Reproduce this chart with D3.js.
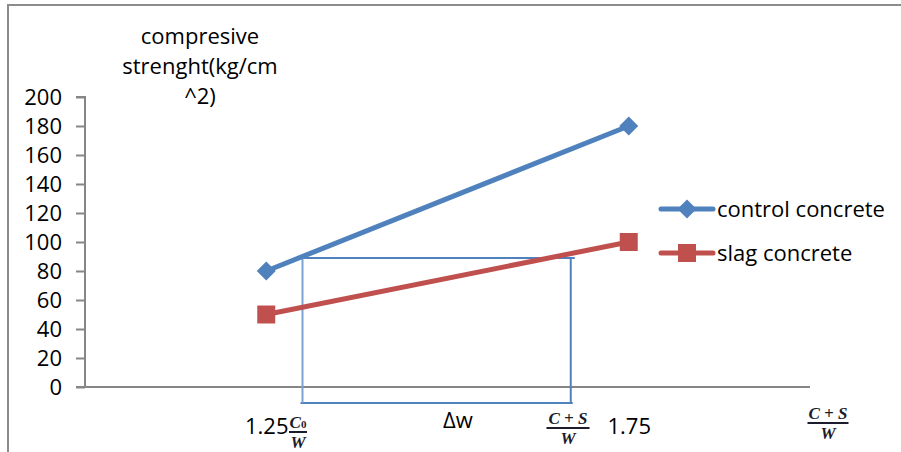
<!DOCTYPE html>
<html><head><meta charset="utf-8">
<script src="https://cdn.jsdelivr.net/npm/d3@7"></script>
<style>body{margin:0;background:#fff}svg{display:block}</style>
</head><body>
<script>
const categories = ["1.25", "1.75"];
const controlValues = [80, 180];
const slagValues = [50, 100];
const yTicks = [0, 20, 40, 60, 80, 100, 120, 140, 160, 180, 200];
const seriesNames = ["control concrete", "slag concrete"];
const titleLines = ["compresive", "strenght(kg/cm", "^2)"];
// Δw annotation box, x in category-index units, y in value units
const boxX = [0.1, 0.84];
const boxY = [-11, 89];

const W = 901, H = 452;
const font = "'Open Sans', sans-serif";
const fs = 22;
const svg = d3.select("body").append("svg").attr("width", W).attr("height", H);

// outer border
svg.append("path").attr("d", `M8,${H} L8,5 L${W},5`).attr("fill","none").attr("stroke","#8c8c8c").attr("stroke-width",2);

const x = d3.scalePoint().domain(categories).range([85, 810]).padding(0.5);
const xi = d3.scaleLinear().domain([0, 1]).range([x(categories[0]), x(categories[1])]);
const y = d3.scaleLinear().domain([0, 200]).range([387, 97]);

// y axis
const ya = svg.append("g").attr("transform","translate(85,0)")
  .call(d3.axisLeft(y).tickValues(yTicks).tickSize(9).tickPadding(14));
ya.select(".domain").attr("stroke","#868686").attr("stroke-width",2).attr("d","M-9,97H0V387H-9");
ya.selectAll(".tick line").attr("stroke","#868686").attr("stroke-width",2);
ya.selectAll(".tick text").attr("font-family",font).attr("font-size",fs).attr("fill","#000").attr("dy","0.36em");

// x axis
const xa = svg.append("g").attr("transform","translate(0,387)")
  .call(d3.axisBottom(x).tickSize(0).tickPadding(31));
xa.select(".domain").attr("stroke","#868686").attr("stroke-width",2).attr("d","M85,0H810");
xa.selectAll(".tick text").attr("font-family",font).attr("font-size",fs).attr("fill","#000").attr("dy","0.71em");

// Δw box
const bx0 = xi(boxX[0]), bx1 = xi(boxX[1]), by0 = y(boxY[0]), by1 = y(boxY[1]);
const boxG = svg.append("g").attr("stroke","#4F81BD").attr("stroke-width",2).attr("fill","none");
boxG.append("line").attr("x1",bx0).attr("x2",bx1+4).attr("y1",by1).attr("y2",by1);
boxG.append("line").attr("x1",bx0-2).attr("x2",bx1+2).attr("y1",by0).attr("y2",by0);
boxG.append("line").attr("x1",bx0).attr("x2",bx0).attr("y1",by1).attr("y2",by0).attr("stroke","#7aa3d4");
boxG.append("line").attr("x1",bx1).attr("x2",bx1).attr("y1",by1).attr("y2",by0);

// series
const series = [
  {name: seriesNames[0], values: controlValues, color: "#4F81BD", marker: "diamond"},
  {name: seriesNames[1], values: slagValues, color: "#C0504D", marker: "square"}
];
const line = d3.line().x((d,i)=>x(categories[i])).y(d=>y(d));
const sym = {diamond: d3.symbol().type(d3.symbolDiamond2).size(230), square: d3.symbol().type(d3.symbolSquare).size(324)};
series.forEach(s => {
  svg.append("path").datum(s.values).attr("d", line).attr("fill","none").attr("stroke", s.color).attr("stroke-width",5);
  svg.selectAll(null).data(s.values).enter().append("path")
    .attr("d", sym[s.marker]()).attr("fill", s.color)
    .attr("transform",(d,i)=>`translate(${x(categories[i])},${y(d)})`);
});

// legend
series.forEach((s, i) => {
  const ly = 209 + i*44;
  const g = svg.append("g").attr("transform",`translate(0,${ly})`);
  g.append("line").attr("x1",661).attr("x2",713).attr("stroke",s.color).attr("stroke-width",5).attr("stroke-linecap","round");
  g.append("path").attr("d", sym[s.marker]()).attr("fill", s.color).attr("transform","translate(687,0)");
  g.append("text").attr("x",717).attr("dy","0.36em").attr("font-family",font).attr("font-size",fs).attr("fill","#000").text(s.name);
});

// y title
svg.append("g").selectAll("text").data(titleLines).enter().append("text")
  .attr("x",200).attr("y",(d,i)=>44+i*30).attr("text-anchor","middle")
  .attr("font-family",font).attr("font-size",fs).attr("fill","#000").text(d=>d);

// Δw label
svg.append("text").attr("x",458).attr("y",420).attr("dy","0.36em").attr("text-anchor","middle")
  .attr("font-family",font).attr("font-size",fs).attr("fill","#000").text("Δw");

// fractions
const serif = "'Liberation Serif', 'DejaVu Serif', serif";
function fraction(cx, lineY, num, den, w, sub) {
  const g = svg.append("g").attr("font-family",serif).attr("font-style","italic").attr("font-weight","bold")
    .attr("font-size",17).attr("fill","#1c1c2c").attr("text-anchor","middle");
  const t = g.append("text").attr("x",cx).attr("y",lineY-4);
  t.append("tspan").text(num);
  if (sub) t.append("tspan").attr("font-size",11).attr("font-style","normal").text(sub);
  g.append("text").attr("x",cx).attr("y",lineY+16).text(den);
  g.append("line").attr("x1",cx-w/2).attr("x2",cx+w/2).attr("y1",lineY).attr("y2",lineY)
    .attr("stroke","#1c1c2c").attr("stroke-width",2);
}
fraction(298, 432, "C", "W", 18, "0");
fraction(568, 428, "C + S", "W", 43);
fraction(828, 423, "C + S", "W", 41);
</script>
</body></html>
